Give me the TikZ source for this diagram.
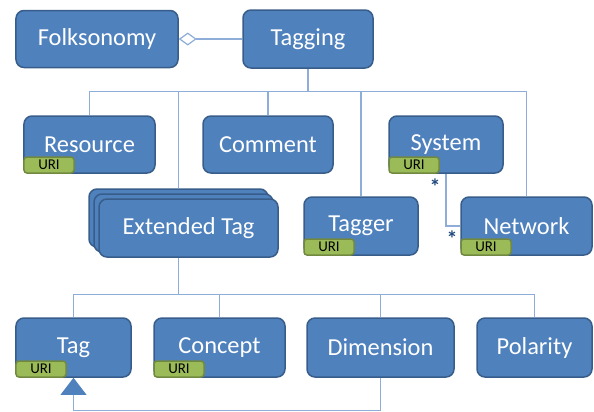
\documentclass[tikz,border=0pt]{standalone}
\usepackage{fontspec}
\newfontfamily\boxfont{Carlito}
\usepackage{tikz}
\usetikzlibrary{calc, positioning, shadows}
\usetikzlibrary{arrows.meta}
\tikzset{>=stealth}
\definecolor{boxblue}{HTML}{4F81BD}
\definecolor{boxline}{HTML}{385D8A}
\definecolor{urigreen}{HTML}{9BBB59}
\definecolor{uriline}{HTML}{71893F}
\definecolor{connblue}{HTML}{8EADD8}
\definecolor{stardark}{HTML}{1F497D}
\tikzset{
	box/.style={draw=boxline, fill=boxblue, line width=1.5bp, rounded corners=8bp, text=white, inner sep=0pt, font=\boxfont\fontsize{24.5}{27}\selectfont},
	uri/.style={draw=uriline, fill=urigreen, line width=1.5bp, rounded corners=3bp, minimum width=50bp, minimum height=16bp, inner sep=0pt, anchor=south west, font=\boxfont\fontsize{15}{16}\selectfont},
	conn/.style={draw=connblue, line width=1.2bp},
	star/.style={text=stardark, font=\boxfont\fontsize{22}{22}\selectfont\bfseries}
}

\begin{document}
\begin{tikzpicture}[x=1bp, y=-1bp]
			\useasboundingbox (0,0) rectangle (594,411);
			% top row
			\node[box, minimum width=162bp, minimum height=57bp] (folk) at (97,39) {Folksonomy};
			\node[box, minimum width=130bp, minimum height=58bp] (tagging) at (308,39) {Tagging};
			% parts of a tagging
			\node[box, minimum width=131bp, minimum height=57bp] (res) at (89.5,144.5) {Resource};
			\node[box, minimum width=130bp, minimum height=57bp] (comment) at (268,144.5) {Comment};
			\node[box, minimum width=114bp, minimum height=57bp] (sys) at (446,144.5) {System};
			\node[box, minimum width=179bp, minimum height=58bp, double copy shadow={shadow xshift=-5bp, shadow yshift=5bp}] (ext) at (188.5,228) {Extended Tag};
			\node[box, minimum width=114bp, minimum height=58bp] (tagger) at (361,226) {Tagger};
			\node[box, minimum width=131bp, minimum height=58bp] (net) at (526.5,226) {Network};
			% kinds of extended tag
			\node[box, minimum width=115bp, minimum height=59bp] (tag) at (73.5,347.5) {Tag};
			\node[box, minimum width=131bp, minimum height=59bp] (concept) at (219.5,347.5) {Concept};
			\node[box, minimum width=147bp, minimum height=59bp] (dim) at (380.5,347.5) {Dimension};
			\node[box, minimum width=115bp, minimum height=59bp] (pol) at (534.5,347.5) {Polarity};
			% URI badges
			\node[uri] (resuri) at (res.south west) {URI};
			\node[uri] (sysuri) at (sys.south west) {URI};
			\node[uri] (taggeruri) at (tagger.south west) {URI};
			\node[uri] (neturi) at (net.south west) {URI};
			\node[uri] (taguri) at (tag.south west) {URI};
			\node[uri] (concepturi) at (concept.south west) {URI};
			% aggregation
			\draw [conn, -{Diamond[open, length=18bp, width=13bp, line width=1.2bp, fill=white]}] (tagging.west) -- (folk.east);
			% upper tree
			\draw [conn] (tagging.south) -- ++(0,23) coordinate (bus1);
			\coordinate (extin) at ($(ext.north)+(-10,-10)$);
			\foreach \child in {res.north, extin, comment.north, tagger.north, net.north}
				\draw [conn] (bus1) -| (\child);
			% system and network
			\draw [conn] (sys.south) |- (net.west);
			\node[star] (s1) at (435,187) {*};
			\node[star] (s2) at (452,239) {*};
			% lower tree
			\coordinate (extout) at ($(ext.south)+(-10,0)$);
			\draw [conn] (extout) -- ++(0,37) coordinate (bus2);
			\foreach \child in {tag.north, concept.north, dim.north, pol.north}
				\draw [conn] (bus2) -| (\child);
			% generalisation
			\draw [conn, -{Triangle[length=17bp, width=26bp, fill=boxblue, line width=0pt]}] (dim.south) -- ++(0,33) -| (tag.south);
		\end{tikzpicture}
\end{document}
